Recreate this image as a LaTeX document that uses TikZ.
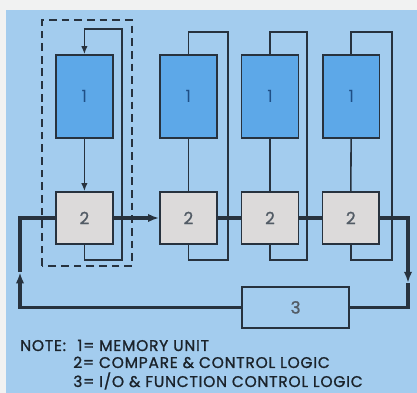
\documentclass[tikz,border=0pt]{standalone}
\usepackage{fontspec}
\setmainfont{Poppins}
\newfontfamily\notefont{Poppins}[FakeBold=1.2, LetterSpace=5]
\usepackage{tikz}
\usetikzlibrary{positioning, arrows.meta}
\definecolor{panel}{HTML}{A3CCEE}
\definecolor{membox}{HTML}{5DA8E8}
\definecolor{memtext}{HTML}{1F4F86}
\definecolor{cmpbox}{HTML}{DCDADA}
\definecolor{ink}{HTML}{27323E}
\definecolor{paper}{HTML}{F1F2F2}

\begin{document}
\begin{tikzpicture}[
  mem/.style={draw=ink, fill=membox, line width=1.1pt, minimum width=1.42cm,
              minimum height=2.08cm, inner sep=0pt, font=\large, text=memtext},
  cmp/.style={draw=ink, fill=cmpbox, line width=1.1pt, minimum width=1.42cm,
              minimum height=1.3cm, inner sep=0pt, font=\large\notefont, text=ink!80},
  iofn/.style={draw=ink, fill=panel, line width=1.1pt, minimum width=2.67cm,
               minimum height=1.02cm, inner sep=0pt, font=\large\notefont, text=ink!80},
  wire/.style={draw=ink, line width=1.1pt},
  bus/.style={draw=ink, line width=2.6pt},
  tip/.style={-{Latex[length=2mm, width=1.6mm]}},
  bustip/.style={-{Latex[length=2.8mm, width=2.1mm]}},
  note/.style={anchor=base west, inner sep=0pt, font=\notefont\fontsize{11}{13}\selectfont,
               text=ink!70!black},
]
\useasboundingbox (0,0) rectangle (10.425,9.825);
% panel
\fill[paper] (0,0) rectangle (10.425,9.825);
\fill[panel] (0.15,0) rectangle (10.425,9.575);
% one stage (dashed)
\draw[ink, line width=1.1pt, dash pattern=on 5.5pt off 3.5pt] (1.05,3.175) rectangle (3.3,9.325);
% memory units
\node[mem] (m1) at (2.11,7.41) {1};
\node[mem] (m2) at (4.71,7.41) {1};
\node[mem] (m3) at (6.75,7.41) {1};
\node[mem] (m4) at (8.78,7.41) {1};
% compare and control logic
\node[cmp] (c1) at (2.11,4.375) {2};
\node[cmp] (c2) at (4.71,4.375) {2};
\node[cmp] (c3) at (6.75,4.375) {2};
\node[cmp] (c4) at (8.77,4.375) {2};
% I/O and function control
\node[iofn] (io) at (7.39,2.14) {3};
% loop corners
\coordinate (r1b) at (3.05,3.325);
\coordinate (r1t) at (3.05,9.10);
\coordinate (r2b) at (5.70,3.325);
\coordinate (r2t) at (5.70,9.03);
\coordinate (r3b) at (7.675,3.325);
\coordinate (r3t) at (7.675,9.03);
\coordinate (r4b) at (9.80,3.325);
\coordinate (r4t) at (9.80,9.03);
\coordinate (busL) at (0.5,3.02);
\coordinate (busR) at (10.2,2.75);
% loops
\draw[wire,tip] (c1.south) |- (r1b) -- (r1t) -| (m1.north);
\draw[wire] (c2.south) |- (r2b) -- (r2t) -| (m2.north);
\draw[wire] (c3.south) |- (r3b) -- (r3t) -| (m3.north);
\draw[wire] (c4.south) |- (r4b) -- (r4t) -| (m4.north);
\draw[wire,tip] (m1) -- (c1);
\draw[wire] (m2) -- (c2);
\draw[wire] (m3) -- (c3);
\draw[wire] (m4) -- (c4);
% bus
\draw[bus,bustip] (io.west) -| (busL);
\draw[bus] (busL) |- (c1.west);
\draw[bus,bustip] (c1) -- (c2);
\draw[bus] (c2) -- (c3);
\draw[bus] (c3) -- (c4);
\draw[bus,bustip] (c4.east) -| (busR);
\draw[bus] (busR) |- (io.east);
% note
\node[note] (lbl) at (0.5,1.05) {NOTE:};
\node[note] (n1) at (1.93,1.05) {1= MEMORY UNIT};
\node[note] (n2) at (1.825,0.625) {2= COMPARE \& CONTROL LOGIC};
\node[note] (n3) at (1.825,0.15) {3= I/O \& FUNCTION CONTROL LOGIC};
\end{tikzpicture}
\end{document}
